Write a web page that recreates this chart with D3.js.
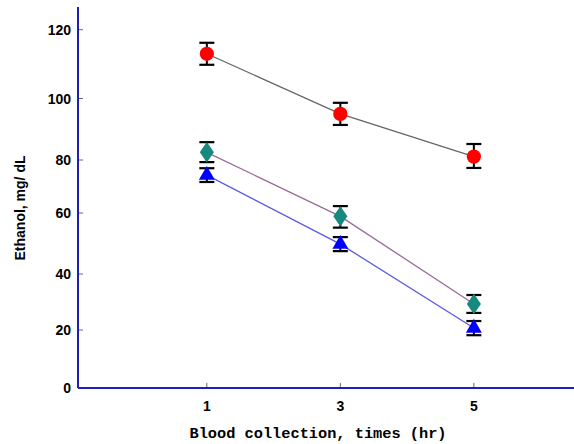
<!DOCTYPE html>
<html>
<head>
<meta charset="utf-8">
<script src="https://cdn.jsdelivr.net/npm/d3@7"></script>
<style>
  body { margin: 0; background: #fff; }
  .tick-lbl { font-family: "Liberation Sans Narrow", "Arial Narrow", "Liberation Sans", sans-serif; font-weight: bold; font-size: 14px; }
</style>
</head>
<body>
<div id="chart"></div>
<script>
// tempos de coleta e series (media +- erro)
const times = [1, 3, 5];
const redMean = [113, 95, 81.1];
const redErr = [3.2, 3.6, 4.1];
const tealMean = [82.5, 58.9, 29.3];
const tealErr = [3.3, 3.7, 3.2];
const blueMean = [74.3, 49.8, 20.7];
const blueErr = [2.6, 2.3, 2.5];
const yTicks = [0, 20, 40, 60, 80, 100, 120];
// posicao das marcas do eixo y na figura original (espacamento irregular)
const yTickPos = [388, 330, 274, 213, 160, 98.5, 29.7];

const width = 574, height = 444;
const svg = d3.select("#chart").append("svg")
  .attr("width", width)
  .attr("height", height);

const x = d3.scaleLinear().domain([-0.93, 6.5]).range([78, 574]);
const y = d3.scaleLinear().domain(yTicks).range(yTickPos).clamp(false);
const yTop = 7;

// eixos azuis
svg.append("line")
  .attr("x1", x(-0.93)).attr("x2", x(-0.93))
  .attr("y1", yTop).attr("y2", y(0))
  .attr("stroke", "#1f1fb8").attr("stroke-width", 2);
svg.append("line")
  .attr("x1", x(-0.93)).attr("x2", 574)
  .attr("y1", y(0)).attr("y2", y(0))
  .attr("stroke", "#1f1fb8").attr("stroke-width", 2);

// ticks do eixo y (para dentro)
yTicks.forEach(t => {
  if (t > 0) {
    svg.append("line")
      .attr("x1", x(-0.93) + 1).attr("x2", x(-0.93) + 5)
      .attr("y1", y(t)).attr("y2", y(t))
      .attr("stroke", "#666").attr("stroke-width", 1);
  }
  svg.append("text").attr("class", "tick-lbl")
    .attr("x", 71).attr("y", y(t) + 5)
    .attr("text-anchor", "end")
    .text(t);
});

times.forEach(t => {
  svg.append("line")
    .attr("x1", x(t)).attr("x2", x(t))
    .attr("y1", y(0) - 1).attr("y2", y(0) - 5)
    .attr("stroke", "#666").attr("stroke-width", 1);
  svg.append("text").attr("class", "tick-lbl")
    .attr("x", x(t)).attr("y", 411)
    .attr("text-anchor", "middle")
    .text(t);
});

// titulos
svg.append("text")
  .attr("transform", "translate(25,208) rotate(-90)")
  .attr("text-anchor", "middle")
  .style("font-family", "'Liberation Sans Narrow', 'Arial Narrow', 'Liberation Sans', sans-serif")
  .style("font-weight", "bold")
  .style("font-size", "14px")
  .text("Ethanol, mg/ dL");

svg.append("text")
  .attr("x", 318).attr("y", 438)
  .attr("text-anchor", "middle")
  .style("font-family", "'Liberation Mono', 'DejaVu Sans Mono', monospace")
  .style("font-weight", "bold")
  .style("font-size", "15.3px")
  .text("Blood collection, times (hr)");

const series = [
  { mean: redMean, err: redErr, line: "#666666", fill: "#ff0000", shape: d3.symbolCircle, size: 160 },
  { mean: tealMean, err: tealErr, line: "#9a6a98", fill: "#178a80", shape: d3.symbolDiamond, size: 120 },
  { mean: blueMean, err: blueErr, line: "#5a5ae6", fill: "#0000ff", shape: d3.symbolTriangle, size: 110 }
];

const lineGen = d3.line().x(d => x(d[0])).y(d => y(d[1]));

series.forEach(s => {
  const pts = times.map((t, i) => [t, s.mean[i], s.err[i]]);

  svg.append("path")
    .datum(pts)
    .attr("d", lineGen)
    .attr("fill", "none")
    .attr("stroke", s.line)
    .attr("stroke-width", 1.3);

  const g = svg.append("g");
  // barras de erro
  g.selectAll(".eb").data(pts).join("line")
    .attr("x1", d => x(d[0])).attr("x2", d => x(d[0]))
    .attr("y1", d => y(d[1] + d[2])).attr("y2", d => y(d[1] - d[2]))
    .attr("stroke", "#000").attr("stroke-width", 2);
  [1, -1].forEach(sign => {
    g.selectAll(".cap" + sign).data(pts).join("line")
      .attr("x1", d => x(d[0]) - 7.5).attr("x2", d => x(d[0]) + 7.5)
      .attr("y1", d => y(d[1] + sign * d[2])).attr("y2", d => y(d[1] + sign * d[2]))
      .attr("stroke", "#000").attr("stroke-width", 2.2);
  });

  g.selectAll(".mk").data(pts).join("path")
    .attr("d", d3.symbol().type(s.shape).size(s.size))
    .attr("transform", d => `translate(${x(d[0])},${y(d[1])})` + (s.shape === d3.symbolDiamond ? " scale(1.2,1)" : ""))
    .attr("fill", s.fill);
});
</script>
</body>
</html>
